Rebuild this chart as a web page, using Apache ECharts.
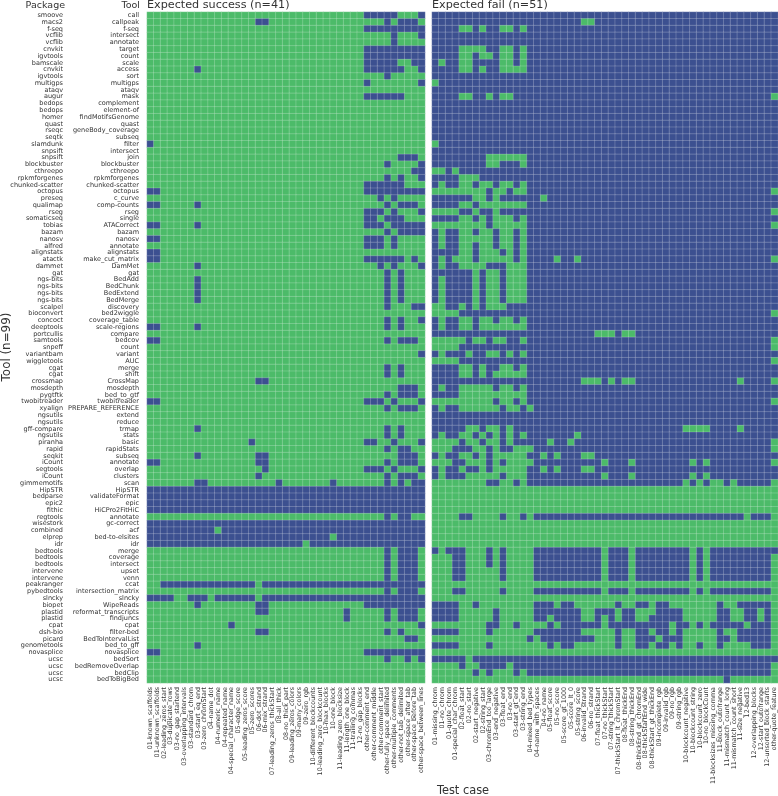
<!DOCTYPE html>
<html><head><meta charset="utf-8">
<style>html,body{margin:0;padding:0;background:#fff}#c{width:778px;height:796px}</style>
<script src="https://cdn.jsdelivr.net/npm/echarts@6/dist/echarts.min.js"></script>
</head><body><div id="c"></div>
<script>
const packages = ["smoove","macs2","f-seq","vcflib","vcflib","cnvkit","igvtools","bamscale","cnvkit","igvtools","multigps","ataqv","augur","bedops","bedops","homer","quast","rseqc","seqtk","slamdunk","snpsift","snpsift","blockbuster","cthreepo","rpkmforgenes","chunked-scatter","octopus","preseq","qualimap","rseg","somaticseq","tobias","bazam","nanosv","alfred","alignstats","atactk","dammet","gat","ngs-bits","ngs-bits","ngs-bits","ngs-bits","scalpel","bioconvert","concoct","deeptools","portcullis","samtools","snpeff","variantbam","wiggletools","cgat","cgat","crossmap","mosdepth","pygtftk","twobitreader","xyalign","ngsutils","ngsutils","gff-compare","ngsutils","piranha","rapid","seqkit","iCount","segtools","iCount","gimmemotifs","HipSTR","bedparse","epic2","fithic","regtools","wisestork","combined","elprep","idr","bedtools","bedtools","bedtools","intervene","intervene","peakranger","pybedtools","slncky","biopet","plastid","plastid","cpat","dsh-bio","picard","genometools","novasplice","ucsc","ucsc","ucsc","ucsc"];
const tools = ["call","callpeak","f-seq","intersect","annotate","target","count","scale","access","sort","multigps","ataqv","mask","complement","element-of","findMotifsGenome","quast","geneBody_coverage","subseq","filter","intersect","join","blockbuster","cthreepo","rpkmforgenes","chunked-scatter","octopus","c_curve","comp-counts","rseg","single","ATACorrect","bazam","nanosv","annotate","alignstats","make_cut_matrix","DamMet","gat","BedAdd","BedChunk","BedExtend","BedMerge","discovery","bed2wiggle","coverage_table","scale-regions","compare","bedcov","count","variant","AUC","merge","shift","CrossMap","mosdepth","bed_to_gtf","twobitreader","PREPARE_REFERENCE","extend","reduce","trmap","stats","basic","rapidStats","subseq","annotate","overlap","clusters","scan","HipSTR","validateFormat","epic","HiCPro2FitHiC","annotate","gc-correct","acf","bed-to-elsites","idr","merge","coverage","intersect","upset","venn","ccat","intersection_matrix","slncky","WipeReads","reformat_transcripts","findjuncs","cpat","filter-bed","BedToIntervalList","bed_to_gff","novasplice","bedSort","bedRemoveOverlap","bedClip","bedToBigBed"];
const successCases = ["01-known_scaffolds","01-unknown_scaffolds","02-leading_zeros_start","03-duplicate_rows","03-no_gap_startend","03-overlapping_intervals","03-standard_chrom","03-start_eq_end","03-zero_chromStart","04-name_dot","04-numeric_name","04-repeated_name","04-special_character_name","05-edge_score","05-leading_zeros_score","05-zero_scores","06-dot_strand","06-mix_strand","07-leading_zeros_thickStart","08-all_thick","08-no_thick_part","09-leading_zeros_colors","09-many_colors","09-zero_rgb","10-different_blockcounts","10-leading_zero_blockcount","10-max_blocks","10-one_block","11-leading_zero_blocksize","11-length_one_block","11-trailing_commas","12-no_gap_blocks","other-comment_end","other-comment_middle","other-comment_start","other-fully_space_delimited","other-multiple_comments","other-not_tab_delimited","other-space_after_tab","other-space_before_tab","other-space_between_lines"];
const failCases = ["01-missing_chrom","01-no_chrom","01-quote_chrom","01-special_char_chrom","02-float_start","02-no_start","02-start_negative","02-string_start","03-chromEnd_too_large","03-end_negative","03-float_end","03-no_end","03-start_gt_end","03-string_end","04-mixed_bed_types","04-name_with_spaces","04-no_name","05-float_score","05-no_score","05-score_gt_1000","05-score_lt_0","05-string_score","06-invalid_strand","06-no_strand","07-float_thickStart","07-no_thickStart","07-string_thickStart","07-thickStart_lt_chromStart","08-float_thickEnd","08-string_thickEnd","08-thickEnd_gt_chromEnd","08-thickStartEnd_wide","08-thickStart_gt_thickEnd","09-incomplete_rgb","09-invalid_rgb","09-no_rgb","09-string_rgb","10-blockcount_negative","10-blockcount_string","10-blockcount_zero","10-no_blockCount","11-blocksizes_missing_comma","11-block_outofrange","11-mismatch_count_long","11-mismatch_count_short","11-size_negative","12-bed13","12-overlapping_blocks","12-start_outofrange","12-unsorted_block_starts","other-quote_feature"];

// Expected success panel: columns drawn blue, one entry per tool
const successBlue = ["32-36,40","16-17,35,37-39","32-40","36,40","36","32-40","32-40","32-36,39-40","7,32-37,40","35","32,40","","32-37","","","","","","","0","","37-39","35,40","39-40","35,37,40","32-37","0-1,32-40","34,36","0-1,7,35,37-39","32-34,36,40","32-33,35-37","0-1,7,32-34,36-40","35,37-40","0-1,32-34,36","32-34,36","0-1","0-1,32-37,39","7,34,36,40","35,37","7,35,37","7,35,37","7,35,37","7,35,37","35,39-40","","35,37,40","0-1,7,35,37","","0-1,35,37-39","","40","","35,37","35,37","16-17","37-39","35,37-39","0-1,32-34,36,40","35,37-39","","","7,35,37","35,37","15,32-33,36,40","35,37-38","7,16-17,37-39","0-1,16-17,35,37-39","17,32-34,36,40","16,35,37-39","7-8,19,27,35,37,39-40","0-40","0-40","0-40","0-40","35,37-38","0-40","0-9,11-40","0-26,28-40","0-22,24-40","35,37-39","35,37-39","35,37-39","35,37-39","35,37-39","2-15,17-40","35,37-39","0-3,6-8,10-15,17-40","7,16-17,32-40","16-17,29,35,37-39","29,35,37-39","12,40","16-17,35,37","38-39","7","0-1,32-40","35,38,40","","",""];
// Expected fail panel, tools 0-69: columns drawn green
const failGreenTop = ["","22-23","4-5,7,10-11,13","","","4-7,10-11,13","4-5,7-8,10-11,13","1,4-5,10-11,13","4-5,7,10-13","","0","","4-5,8,10-11,50","","","","","","","0","","8-13","8-9,13","0-1,3","4-6","1,4-5,7-8,10-11,13","0-7,9-10,12-13,50","6-7,9,16","4-5,7-13","0-3,6,9,50","4-5,7,9-11,13","0-7,9-13,50","1,4-5,7-8,10-11,13","1,4-8,10-11,13","1,4-5,7-8,10-11,13","4-5,7-9,11,13","1,3-5,7-11,13,18,21,50","1,4-7,11-13","6,8-9,11-13","1,6,8-9,11-13","1,6,8-9,11-13","1,6,8-9,11-13","1,6,8-9,11-13","0-1,4,6,8-10","0-3,50","1,4-5,7-8,10-11,13","1,4-5,7-13","24-26,28-29","0-4,6-7,9-10,13,50","0-3,50","1,5,8-9,11,13","0-3,50","4-5,7,10-11,13","4-5,7,9-13","22-24,26,28-29,45,50","1,4-8,10-11,13","4-13","0-8,10-11,13,50","1,4-9,11-12,14","","","5-6,8-9,11,37-40,45","1,4-5,7,9,11,13,21","0-3,5-6,8-9,11,17,20,50","0-2,6-7,9,12-14,50","1,4-5,7,9-13,16,18,22-23","0-2,5-7,9,11-14,25,29,38,40,50","1,4,7,9-13,16,18,22-23","1,5-9,11-13,25,29,38,40","0-7,10-11,13,37,39,41-42,44,50"];
// Expected fail panel, tools 70-98: columns drawn blue
const failBlueBottom = ["","","","","4-5,10,13,15-45,47-49","","","","","0,2-4,8,10,15-24,26-28,30-37,39,41-50","3-4,8,10,15-24,26-28,30-37,39,41-49","3-4,8,10,15-24,26-28,30-37,39,41-49","3-4,10,15-24,26-28,30-37,39,41-49","3-4,10,15-24,26-28,30-37,39,41-49","","3-4,10,15-24,26-28,30-37,39,41-49","","0-3,6,15-17,19-20,27,30-31,33-34,42,45-49","0-3,9,15-21,24-26,28-29,33-36,42-43,46-47,49","0-3,9,15-16,18-21,24,26,28-29,32-36,42-43,46-47,49","8-9,12,17,19-24,26-34,36-37,39,41-45,47-49","0-3,8,15-21,27,30-31,33-34,36,42,45-49","14,16-23,27,30-32,34-36,42-43,45-49","0-3,8,17,19-20,27,30-31,33-34,36,39,42,47-49","","0-4,6-50","4,7-10,12-49","6,8,12,14-49","43"];

const GREEN = "#4CBB69", BLUE = "#3C5090";

function cols(spec){
  const out = new Set();
  if (!spec) return out;
  spec.split(",").forEach(p => {
    const [a,b] = p.split("-").map(Number);
    for (let i=a; i<=(b===undefined?a:b); i++) out.add(i);
  });
  return out;
}
const successData = [], failData = [];
tools.forEach((_, r) => {
  const s = cols(successBlue[r]);
  successCases.forEach((_, c) => successData.push([c, r, s.has(c) ? 0 : 1]));
  const top = r < failGreenTop.length;
  const f = cols(top ? failGreenTop[r] : failBlueBottom[r - failGreenTop.length]);
  failCases.forEach((_, c) => failData.push([c, r, top ? (f.has(c) ? 1 : 0) : (f.has(c) ? 0 : 1)]));
});

const chart = echarts.init(document.getElementById('c'), null, {renderer:'canvas', width:778, height:796});
const FONT = "DejaVu Sans";
const TEXT = "#333";
const cell = {borderColor:"rgba(255,255,255,0.4)", borderWidth:0.5};
const xAxis = (i, data) => ({type:'category', gridIndex:i, data, position:'bottom',
  axisLine:{show:false}, axisTick:{show:false}, splitLine:{show:false},
  axisLabel:{interval:0, rotate:90, fontFamily:FONT, fontSize:6.35, color:TEXT, margin:4}});
const yAxis = (grid, data, show, offset) => ({type:'category', gridIndex:grid, data, inverse:true, position:'left', offset,
  axisLine:{show:false}, axisTick:{show:false}, splitLine:{show:false},
  axisLabel:{show, interval:0, fontFamily:FONT, fontSize:6.5, color:TEXT, margin:8}});
const label = (text, x, y, size, align, rot) => ({type:'text', x, y, rotation:rot||0, silent:true,
  style:{text, font:`${size}px ${FONT}`, fill:TEXT, textAlign:align, textVerticalAlign:'middle'}});

chart.setOption({
  animation:false,
  backgroundColor:'#fff',
  grid:[{left:147, top:12, width:278, height:671},{left:432, top:12, width:346, height:671}],
  xAxis:[xAxis(0, successCases), xAxis(1, failCases)],
  yAxis:[yAxis(0, tools, true, 0), yAxis(0, packages, true, 76), yAxis(1, tools, false, 0)],
  visualMap:{type:'piecewise', show:false, dimension:2, seriesIndex:[0,1],
    pieces:[{value:0, color:BLUE},{value:1, color:GREEN}]},
  series:[
    {type:'heatmap', xAxisIndex:0, yAxisIndex:0, data:successData, itemStyle:cell, progressive:0},
    {type:'heatmap', xAxisIndex:1, yAxisIndex:2, data:failData, itemStyle:cell, progressive:0}
  ],
  graphic:[
    label("Package", 65, 5.5, 9.5, 'right'),
    label("Tool", 140, 5.5, 9.5, 'right'),
    label("Expected success (n=41)", 147, 5, 11.2, 'left'),
    label("Expected fail (n=51)", 432, 5, 11.2, 'left'),
    label("Tool (n=99)", 6.5, 347, 11.9, 'center', Math.PI/2),
    label("Test case", 463, 791, 11.4, 'center')
  ]
});
</script></body></html>
